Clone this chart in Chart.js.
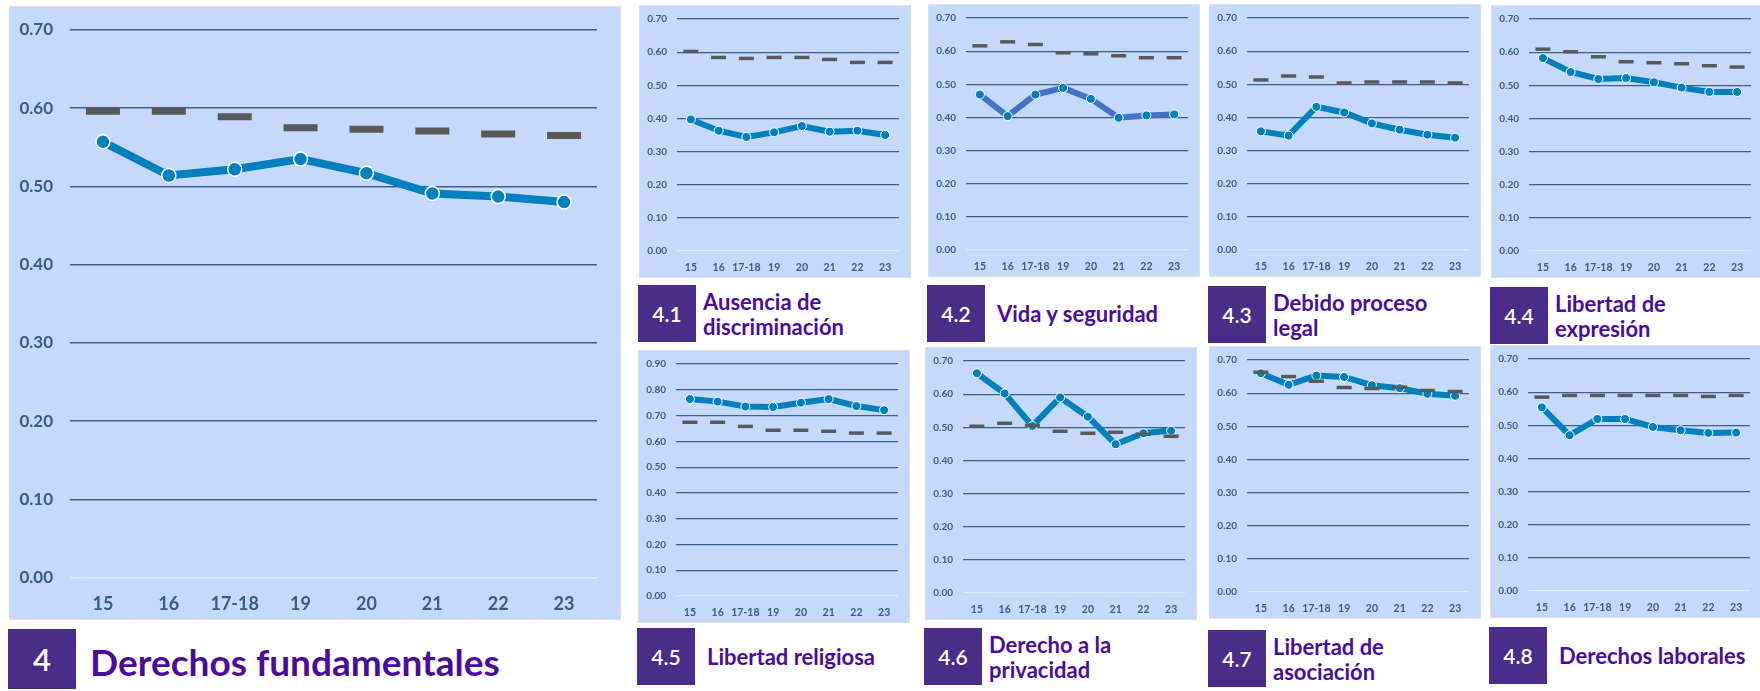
<!DOCTYPE html>
<html>
<head>
<meta charset="utf-8">
<script src="https://cdn.jsdelivr.net/npm/chart.js@4.4.1/dist/chart.umd.min.js"></script>
<style>
    body { margin: 0; background: #fff; }
    #page { position: relative; width: 1760px; height: 691px; overflow: hidden; background: #fff; font-family: Lato, "Open Sans", sans-serif; }
    .panel { position: absolute; background: #c5d9fc; box-shadow: inset 0 0 0 1px #d9e0e8; }
    .panel canvas { position: absolute; left: 0; top: 0; }
    .numbox { position: absolute; background: #4a2d89; color: #fff; display: flex; align-items: center; justify-content: center; font-weight: 600; }
    .title { position: absolute; display: flex; flex-direction: column; justify-content: center; color: #4b0c9e; font-weight: 700; white-space: nowrap; }
</style>
</head>
<body>
<div id="page"></div>
<script>
// years on the x axis
const years = ["15", "16", "17-18", "19", "20", "21", "22", "23"];

// 4 Derechos fundamentales
const fundamentales = [0.557, 0.514, 0.522, 0.535, 0.517, 0.491, 0.487, 0.480];
const fundamentalesProm = [0.596, 0.596, 0.589, 0.575, 0.573, 0.571, 0.567, 0.565];

// 4.1 Ausencia de discriminación
const discriminacion = [0.397, 0.363, 0.344, 0.358, 0.377, 0.360, 0.363, 0.350];
const discriminacionProm = [0.602, 0.584, 0.581, 0.584, 0.584, 0.578, 0.569, 0.569];

// 4.2 Vida y seguridad
const vida = [0.469, 0.404, 0.469, 0.489, 0.456, 0.399, 0.406, 0.409];
const vidaProm = [0.616, 0.628, 0.620, 0.595, 0.592, 0.586, 0.580, 0.580];

// 4.3 Debido proceso legal
const proceso = [0.358, 0.345, 0.432, 0.415, 0.382, 0.363, 0.348, 0.339];
const procesoProm = [0.513, 0.525, 0.522, 0.504, 0.507, 0.507, 0.507, 0.504];

// 4.4 Libertad de expresión
const expresion = [0.582, 0.540, 0.519, 0.522, 0.509, 0.493, 0.480, 0.480];
const expresionProm = [0.609, 0.601, 0.586, 0.571, 0.568, 0.565, 0.559, 0.555];

// 4.5 Libertad religiosa
const religiosa = [0.764, 0.754, 0.735, 0.733, 0.750, 0.764, 0.737, 0.721];
const religiosaProm = [0.674, 0.674, 0.658, 0.643, 0.643, 0.639, 0.632, 0.632];

// 4.6 Derecho a la privacidad
const privacidad = [0.663, 0.602, 0.504, 0.590, 0.532, 0.449, 0.482, 0.490];
const privacidadProm = [0.503, 0.512, 0.506, 0.488, 0.482, 0.485, 0.479, 0.473];

// 4.7 Libertad de asociación
const asociacion = [0.660, 0.625, 0.653, 0.649, 0.624, 0.615, 0.598, 0.592];
const asociacionProm = [0.663, 0.650, 0.636, 0.617, 0.614, 0.618, 0.608, 0.605];

// 4.8 Derechos laborales
const laborales = [0.554, 0.470, 0.519, 0.519, 0.495, 0.485, 0.477, 0.478];
const laboralesProm = [0.585, 0.590, 0.590, 0.590, 0.590, 0.590, 0.587, 0.590];

const page = document.getElementById("page");

//  Big panel on the left
let panels = [{
    num: "4", title: ["Derechos fundamentales"], score: fundamentales, avg: fundamentalesProm, max: 0.7, big: true,
    left: 9, top: 6, width: 612, height: 614,
    gridLeft: 61, gridTop: 23, gridRight: 20, gridBottom: 42.5,
    box: { left: 8, top: 629, size: 68, h: 60, font: 31 }, textLeft: 90, textSize: 37
}];

//  Small panels, same inner layout
const small = [
    { num: "4.1", title: ["Ausencia de", "discriminación"], score: discriminacion, avg: discriminacionProm, max: 0.7, left: 639, top: 5, boxTop: 285 },
    { num: "4.2", title: ["Vida y seguridad"], score: vida, avg: vidaProm, max: 0.7, left: 928, top: 4, boxTop: 285, lineColor: "#4472c4" },
    { num: "4.3", title: ["Debido proceso", "legal"], score: proceso, avg: procesoProm, max: 0.7, left: 1209, top: 4, boxTop: 286 },
    { num: "4.4", title: ["Libertad de", "expresión"], score: expresion, avg: expresionProm, max: 0.7, left: 1491, top: 5, boxTop: 287 },
    { num: "4.5", title: ["Libertad religiosa"], score: religiosa, avg: religiosaProm, max: 0.9, left: 638, top: 350, boxTop: 628 },
    { num: "4.6", title: ["Derecho a la", "privacidad"], score: privacidad, avg: privacidadProm, max: 0.7, left: 925, top: 347, boxTop: 628 },
    { num: "4.7", title: ["Libertad de", "asociación"], score: asociacion, avg: asociacionProm, max: 0.7, left: 1209, top: 346, boxTop: 630 },
    { num: "4.8", title: ["Derechos laborales"], score: laborales, avg: laboralesProm, max: 0.7, left: 1490, top: 345, boxTop: 627 }
];

small.forEach(s => {
    let boxLeft = s.left - 1;
    panels.push(Object.assign({}, s, {
        big: false, width: 272, height: 273,
        gridLeft: 38, gridTop: 14, gridRight: 12, gridBottom: 27,
        box: { left: boxLeft, top: s.boxTop, size: 58, h: 57, font: 21 },
        textLeft: boxLeft + 58 + (s.title.length > 1 ? 7 : 12), textSize: 22
    }));
});

panels.forEach(p => {
    //  panel background + canvas
    let div = document.createElement("div");
    div.className = "panel";
    div.style.cssText = `left:${p.left}px;top:${p.top}px;width:${p.width}px;height:${p.height}px;`;
    let canvas = document.createElement("canvas");
    canvas.width = p.width;
    canvas.height = p.height;
    canvas.style.width = p.width + "px";
    canvas.style.height = p.height + "px";
    div.appendChild(canvas);
    page.appendChild(div);

    //  purple number box
    let box = document.createElement("div");
    box.className = "numbox";
    box.style.cssText = `left:${p.box.left}px;top:${p.box.top}px;width:${p.box.size}px;height:${p.box.h}px;font-size:${p.box.font}px;`;
    box.textContent = p.num;
    page.appendChild(box);

    //  title next to the box
    let title = document.createElement("div");
    title.className = "title";
    let shift = p.big ? 3 : 0;
    title.style.cssText = `left:${p.textLeft}px;top:${p.box.top + shift}px;height:${p.box.h}px;font-size:${p.textSize}px;line-height:${p.big ? 40 : 25}px;`;
    p.title.forEach(line => {
        let span = document.createElement("div");
        span.textContent = line;
        title.appendChild(span);
    });
    page.appendChild(title);

    makeChart(canvas, p);
});

function makeChart(canvas, p) {
    let big = p.big;
    let blue = "#0080bc";

    new Chart(canvas.getContext("2d"), {
        type: "line",
        data: {
            labels: years,
            datasets: [{
                label: "Promedio",
                data: p.avg,
                showLine: false,
                pointStyle: "line",
                pointRadius: big ? 17 : 7.5,
                pointBorderWidth: big ? 7 : 3.5,
                pointBorderColor: "#595959",
                borderColor: "#595959",
                order: 0
            }, {
                label: p.num,
                data: p.score,
                borderColor: p.lineColor || blue,
                borderWidth: big ? 8 : 6,
                tension: 0,
                pointRadius: big ? 7 : 4.5,
                pointBackgroundColor: blue,
                pointBorderColor: "#ffffff",
                pointBorderWidth: big ? 1.5 : 1,
                order: 1
            }]
        },
        options: {
            responsive: false,
            animation: false,
            devicePixelRatio: 1,
            layout: { padding: { left: 0, top: p.gridTop, right: p.gridRight, bottom: 0 } },
            plugins: { legend: { display: false }, tooltip: { enabled: false } },
            scales: {
                x: {
                    offset: true,
                    grid: { display: false, drawTicks: false },
                    border: { display: false },
                    ticks: {
                        color: "#3b5b82",
                        font: { family: "Lato", weight: "bold", size: big ? 18 : 10.5 },
                        padding: big ? 16 : 10,
                        maxRotation: 0,
                        autoSkip: false
                    },
                    afterFit: scale => {
                        scale.height = p.gridBottom;
                        scale.paddingLeft = 0;
                        scale.paddingRight = 0;
                    }
                },
                y: {
                    min: 0,
                    max: p.max,
                    grid: {
                        drawTicks: false,
                        color: ctx => ctx.tick && ctx.tick.value === 0 ? "rgba(255,255,255,0.45)" : "#3d5f8c",
                        lineWidth: big ? 1.5 : 1.2
                    },
                    border: { display: false },
                    ticks: {
                        stepSize: 0.1,
                        color: "#3b5b82",
                        font: { family: "Lato", weight: "bold", size: big ? 17 : 10 },
                        padding: big ? 17 : 10,
                        callback: v => v.toFixed(2)
                    },
                    //  fixed axis width, and no extra room for half labels
                    afterFit: scale => {
                        scale.width = p.gridLeft;
                        scale.paddingTop = 0;
                        scale.paddingBottom = 0;
                    }
                }
            }
        }
    });
}
</script>
</body>
</html>
